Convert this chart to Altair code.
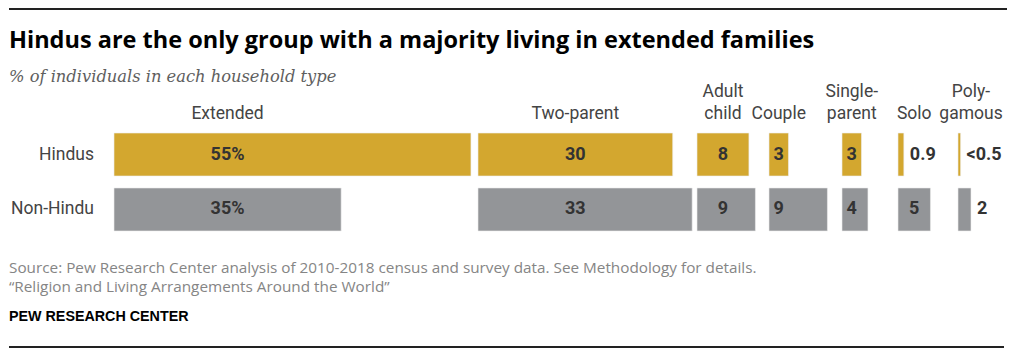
import altair as alt
import pandas as pd

# ---------------- data ----------------
categories = ["Extended", "Two-parent", "Adult child", "Couple", "Single-parent", "Solo", "Polygamous"]
header_top = ["", "", "Adult", "", "Single-", "", "Poly-"]
header_bottom = ["Extended", "Two-parent", "child", "Couple", "parent", "Solo", "gamous"]
groups = ["Hindus", "Non-Hindu"]
hindu_values = [55, 30, 8, 3, 3, 0.9, 0.4]
nonhindu_values = [35, 33, 9, 9, 4, 5, 2]
hindu_labels = ["55%", "30", "8", "3", "3", "0.9", "<0.5"]
nonhindu_labels = ["35%", "33", "9", "9", "4", "5", "2"]

title_text = "Hindus are the only group with a majority living in extended families"
subtitle_text = "% of individuals in each household type"
source_lines = [
    "Source: Pew Research Center analysis of 2010-2018 census and survey data. See Methodology for details.",
    "\u201cReligion and Living Arrangements Around the World\u201d",
]
credit_text = "PEW RESEARCH CENTER"

# ---------------- layout / style ----------------
PX_PER_UNIT = 6.49
panel_widths = [364, 219, 72, 73, 56, 60, 48]
PANEL_H = 104
LEFT = 106
INSIDE_MIN = 2.5
GOLD = "#D3A72F"
GRAY = "#939598"
SANS = "Roboto"
FOOT = "Open Sans"

y_enc = alt.Y(
    "group:N",
    scale=alt.Scale(domain=groups, paddingInner=0.218, paddingOuter=0.055),
    axis=None,
)
color_enc = alt.Color("group:N", scale=alt.Scale(domain=groups, range=[GOLD, GRAY]), legend=None)

panels = []
for i, cat in enumerate(categories):
    vals = [hindu_values[i], nonhindu_values[i]]
    labs = [hindu_labels[i], nonhindu_labels[i]]
    inside_vals = [v for v in vals if v >= INSIDE_MIN]
    center = min(inside_vals) / 2 if inside_vals else None
    rows = []
    for g, v, l in zip(groups, vals, labs):
        inside = v >= INSIDE_MIN
        rows.append({"group": g, "value": v, "label": l,
                     "lx": center if inside else v, "inside": inside})
    df = pd.DataFrame(rows)
    hdf = pd.DataFrame({
        "hx": [center if inside_vals else max(vals)],
        "top": [header_top[i]],
        "bottom": [header_bottom[i]],
    })

    w = panel_widths[i]
    xscale = alt.Scale(domain=[0, w / PX_PER_UNIT], nice=False, zero=True)

    bars = alt.Chart(df).mark_bar(stroke="#ececec", strokeWidth=0.6).encode(
        x=alt.X("value:Q", scale=xscale, axis=None),
        y=y_enc,
        color=color_enc,
    )
    lab_in = alt.Chart(df).transform_filter("datum.inside").mark_text(
        font=SANS, fontSize=18, fontWeight="bold", color="#333333", align="center", baseline="middle"
    ).encode(x=alt.X("lx:Q", scale=xscale, axis=None), y=y_enc, text="label:N")
    lab_out = alt.Chart(df).transform_filter("!datum.inside").mark_text(
        font=SANS, fontSize=18, fontWeight="bold", color="#333333", align="left", baseline="middle", dx=6
    ).encode(x=alt.X("lx:Q", scale=xscale, axis=None), y=y_enc, text="label:N")
    head_b = alt.Chart(hdf).mark_text(
        font=SANS, fontSize=17.5, color="#444444", align="center", baseline="bottom",
    ).encode(x=alt.X("hx:Q", scale=xscale, axis=None), y=alt.value(-7), text="bottom:N")
    layers = [bars, lab_in, lab_out, head_b]
    if header_top[i]:
        head_t = alt.Chart(hdf).mark_text(
            font=SANS, fontSize=17.5, color="#444444", align="center", baseline="bottom",
        ).encode(x=alt.X("hx:Q", scale=xscale, axis=None), y=alt.value(-29), text="top:N")
        layers.append(head_t)

    if i == 0:
        rowlab = alt.Chart(df).mark_text(
            font=SANS, fontSize=17.5, color="#444444", align="right", baseline="middle"
        ).encode(x=alt.value(-20), y=y_enc, text="group:N")
        tdf = pd.DataFrame({"t": [title_text]})
        sdf = pd.DataFrame({"t": [subtitle_text]})
        fdf1 = pd.DataFrame({"t": [source_lines[0]]})
        fdf2 = pd.DataFrame({"t": [source_lines[1]]})
        cdf = pd.DataFrame({"t": [credit_text]})
        title = alt.Chart(tdf).mark_text(
            font="Open Sans", fontSize=23.5, fontWeight="bold", color="#000000", align="left", baseline="alphabetic"
        ).encode(x=alt.value(-LEFT + 1), y=alt.value(-82), text="t:N")
        subtitle = alt.Chart(sdf).mark_text(
            font="DejaVu Serif", fontSize=16.3, fontStyle="italic", color="#5e5e5e", align="left", baseline="alphabetic"
        ).encode(x=alt.value(-LEFT + 1), y=alt.value(-48), text="t:N")
        foot1 = alt.Chart(fdf1).mark_text(
            font=FOOT, fontSize=15.3, color="#858585", align="left", baseline="alphabetic"
        ).encode(x=alt.value(-LEFT + 1), y=alt.value(143), text="t:N")
        foot2 = alt.Chart(fdf2).mark_text(
            font=FOOT, fontSize=15.3, color="#858585", align="left", baseline="alphabetic"
        ).encode(x=alt.value(-LEFT + 1), y=alt.value(162), text="t:N")
        credit = alt.Chart(cdf).mark_text(
            font="Liberation Sans", fontSize=14.3, fontWeight="bold", color="#000000", align="left", baseline="alphabetic"
        ).encode(x=alt.value(-LEFT + 1), y=alt.value(191), text="t:N")
        top_rule = alt.Chart(tdf).mark_rule(color="#222222", strokeWidth=2).encode(
            x=alt.value(-LEFT + 1), x2=alt.value(sum(panel_widths) + 1), y=alt.value(-121)
        )
        bottom_rule = alt.Chart(tdf).mark_rule(color="#222222", strokeWidth=2).encode(
            x=alt.value(-LEFT + 1), x2=alt.value(sum(panel_widths) - 2), y=alt.value(217)
        )
        layers += [rowlab, title, subtitle, foot1, foot2, credit, top_rule, bottom_rule]

    panels.append(alt.layer(*layers).properties(width=w, height=PANEL_H))

chart = (
    alt.hconcat(*panels, spacing=0, bounds="flush")
    .resolve_scale(x="independent")
    .configure_view(stroke=None)
    .properties(padding=0, background="white")
)

chart.save("out.html", embed_options={"renderer": "svg", "actions": False})
